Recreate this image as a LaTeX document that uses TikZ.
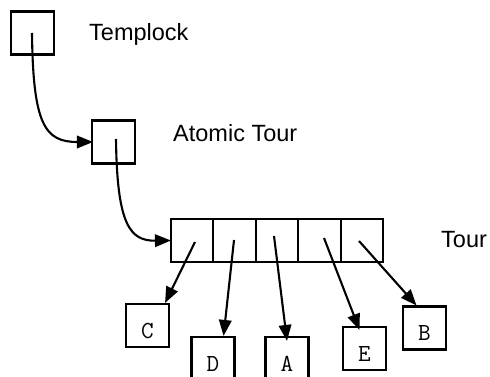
\documentclass[tikz,border=0pt]{standalone}
\usepackage{fontspec}
\setmainfont{Liberation Sans}
\usetikzlibrary{arrows.meta}
\begin{document}
\begin{tikzpicture}[x=1pt,y=-1pt,
  cell/.style={draw,line width=2.1pt,minimum width=42.4pt,minimum height=43pt,inner sep=0pt,anchor=center},
  letter/.style={inner sep=0pt,font=\ttfamily\fontsize{24.5}{24.5}\selectfont},
  box/.style={draw,line width=2.1pt,minimum size=43pt,inner sep=0pt,
    label={[letter,yshift=-5.5pt]center:#1}},
  lbl/.style={anchor=base west,inner sep=0pt,font=\fontsize{23.5}{24}\selectfont},
  ptr/.style={line width=2.1pt,-{Triangle[length=16pt,width=12.5pt]}}]
\useasboundingbox (0,0) rectangle (490,377);

% single-cell boxes
\node[cell,minimum width=43pt] (tl) at (32.5,33) {};
\node[cell,minimum width=43pt] (at) at (113.5,142) {};

% five-cell array
\foreach \i/\x in {1/192.2,2/234.6,3/277,4/319.4,5/361.8}
  \node[cell] (t\i) at (\x,240.5) {};

% target boxes
\node[box=C] (C) at (147.5,325.5) {};
\node[box=D] (D) at (213,358.5) {};
\node[box=A] (A) at (287,358.5) {};
\node[box=E] (E) at (364.5,348.5) {};
\node[box=B] (B) at (424.5,328) {};

% labels
\node[lbl] (ltl) at (89,41) {Templock};
\node[lbl] (lat) at (173,142) {Atomic Tour};
\node[lbl] (ltr) at (441,247) {Tour};

% pointer origins inside the cells
\coordinate (ptl) at (32,33);
\coordinate (pat) at (116,139);
\coordinate (p1) at (195,242);
\coordinate (p2) at (234,240);
\coordinate (p3) at (274,236);
\coordinate (p4) at (324,238);
\coordinate (p5) at (359,241);

% pointer targets
\coordinate (q0) at ([xshift=2pt]at.west);
\coordinate (q1) at ([xshift=1pt]t1.west);
\coordinate (qC) at ([xshift=-5pt]C.north east);
\coordinate (qD) at ([xshift=-12pt]D.north east);
\coordinate (qA) at ([yshift=-5pt]A.north);
\coordinate (qE) at ([shift={(-5pt,-4pt)}]E.north);
\coordinate (qB) at ([xshift=-8pt]B.north);

\draw[ptr] (ptl) .. controls (33,125) and (45,142) .. (q0);
\draw[ptr] (pat) .. controls (117,225) and (130,241) .. (q1);
\draw[ptr] (p1) -- (qC);
\draw[ptr] (p2) -- (qD);
\draw[ptr] (p3) -- (qA);
\draw[ptr] (p4) -- (qE);
\draw[ptr] (p5) -- (qB);
\end{tikzpicture}
\end{document}
